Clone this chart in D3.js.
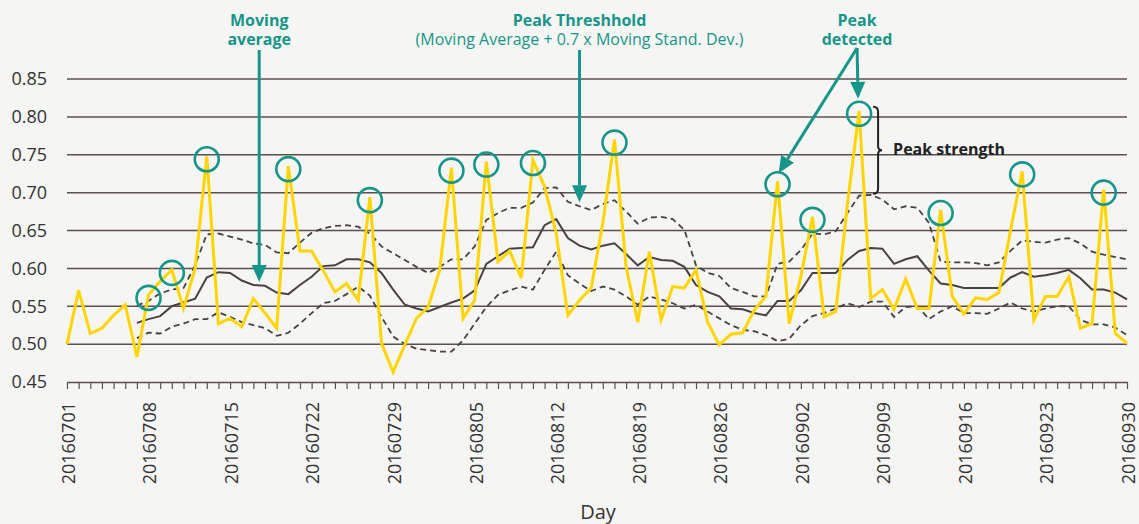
<!DOCTYPE html>
<html>
<head>
<meta charset="utf-8">
<script src="https://cdn.jsdelivr.net/npm/d3@7"></script>
<style>
  body { margin: 0; background: #f5f5f3; }
  svg { display: block; font-family: "Open Sans", sans-serif; }
</style>
</head>
<body>
<svg class="chart_svg"></svg>
<script>
// daily values, 2016-07-01 .. 2016-09-30
const daily = [0.500,0.571,0.514,0.521,0.538,0.552,0.483,0.565,0.583,0.598,
  0.547,0.600,0.748,0.527,0.534,0.523,0.560,0.541,0.521,0.735,
  0.623,0.623,0.597,0.569,0.580,0.558,0.694,0.501,0.463,0.499,
  0.534,0.549,0.598,0.733,0.534,0.558,0.741,0.609,0.623,0.587,
  0.743,0.708,0.646,0.538,0.558,0.574,0.660,0.770,0.602,0.529,
  0.622,0.532,0.576,0.574,0.598,0.529,0.499,0.513,0.515,0.545,
  0.563,0.715,0.527,0.589,0.668,0.536,0.543,0.685,0.808,0.560,
  0.572,0.546,0.586,0.547,0.547,0.677,0.563,0.540,0.561,0.559,
  0.568,0.650,0.728,0.532,0.563,0.563,0.589,0.521,0.527,0.704,
  0.514,0.501]

// moving average and bands start on day 7
const movingAvg = [null,null,null,null,null,null,0.528,0.533,0.537,0.550,
  0.555,0.560,0.588,0.595,0.594,0.584,0.578,0.577,0.568,0.566,
  0.578,0.589,0.603,0.604,0.612,0.612,0.608,0.594,0.572,0.552,
  0.547,0.543,0.549,0.555,0.560,0.571,0.606,0.616,0.626,0.627,
  0.628,0.657,0.665,0.640,0.630,0.625,0.630,0.633,0.619,0.604,
  0.615,0.611,0.610,0.602,0.578,0.569,0.563,0.547,0.546,0.541,
  0.538,0.557,0.557,0.571,0.594,0.594,0.594,0.611,0.623,0.627,
  0.626,0.606,0.612,0.616,0.597,0.580,0.578,0.574,0.574,0.574,
  0.574,0.588,0.595,0.589,0.591,0.594,0.598,0.587,0.572,0.572,
  0.568,0.559]

const upperBand = [null,null,null,null,null,null,0.551,0.557,0.567,0.572,
  0.574,0.604,0.645,0.646,0.642,0.638,0.633,0.631,0.621,0.620,
  0.634,0.647,0.653,0.656,0.657,0.655,0.646,0.629,0.620,0.611,
  0.602,0.594,0.602,0.612,0.612,0.629,0.664,0.673,0.680,0.680,
  0.687,0.706,0.707,0.688,0.682,0.677,0.685,0.690,0.675,0.659,
  0.667,0.668,0.665,0.651,0.604,0.594,0.590,0.574,0.569,0.563,
  0.563,0.606,0.609,0.624,0.646,0.645,0.649,0.673,0.696,0.697,
  0.691,0.678,0.682,0.680,0.660,0.609,0.608,0.608,0.607,0.604,
  0.608,0.623,0.637,0.635,0.634,0.638,0.640,0.633,0.622,0.618,
  0.615,0.612]

const lowerBand = [null,null,null,null,null,null,0.508,0.515,0.514,0.523,
  0.527,0.533,0.533,0.542,0.536,0.529,0.525,0.521,0.511,0.515,
  0.527,0.541,0.554,0.557,0.566,0.576,0.564,0.536,0.510,0.500,
  0.494,0.492,0.490,0.490,0.505,0.527,0.549,0.565,0.571,0.576,
  0.572,0.598,0.622,0.591,0.580,0.570,0.576,0.572,0.563,0.552,
  0.563,0.559,0.554,0.547,0.552,0.543,0.534,0.525,0.519,0.517,
  0.512,0.504,0.507,0.525,0.537,0.541,0.547,0.554,0.549,0.556,
  0.556,0.536,0.549,0.550,0.533,0.543,0.550,0.541,0.541,0.540,
  0.547,0.555,0.547,0.543,0.547,0.550,0.550,0.532,0.526,0.526,
  0.522,0.512]

// day index of detected peaks
const peakDays = [7,9,12,19,26,33,36,40,47,61,64,68,75,82,89]

const yTicks = [0.45,0.50,0.55,0.60,0.65,0.70,0.75,0.80,0.85]
const xTickLabels = ["20160701","20160708","20160715","20160722","20160729","20160805","20160812",
  "20160819","20160826","20160902","20160909","20160916","20160923","20160930"]

const W = 1139, H = 524
const margin = {top: 79, right: 12, bottom: 142, left: 67}
const teal = "#17958a", yellow = "#ffd500", grid = "#5a504e", dark = "#4a4240"

const svg = d3.select(".chart_svg").attr("width", W).attr("height", H)
svg.append("rect").attr("width", W).attr("height", H).attr("fill", "#f5f5f3")

const x = d3.scaleLinear().domain([0, daily.length - 1]).range([margin.left, W - margin.right])
const y = d3.scaleLinear().domain([0.45, 0.85]).range([H - margin.bottom, margin.top])

// gridlines
svg.append("g").selectAll("line").data(yTicks.slice(1)).join("line")
  .attr("x1", x(0)).attr("x2", x(91))
  .attr("y1", d => y(d)).attr("y2", d => y(d))
  .attr("stroke", grid).attr("stroke-width", 1.5)

// y axis labels
const yAxis = svg.append("g").attr("transform", `translate(${margin.left},0)`)
  .call(d3.axisLeft(y).tickValues(yTicks).tickSize(0).tickPadding(20).tickFormat(d3.format(".2f")))
yAxis.select(".domain").remove()
yAxis.selectAll("text").attr("font-size", 18).attr("fill", "#333").attr("font-family", "Open Sans")

// x axis with a tick per day, label every week
const xAxis = svg.append("g").attr("transform", `translate(0,${y(0.45)})`)
  .call(d3.axisBottom(x).tickValues(d3.range(daily.length)).tickSize(7).tickSizeOuter(0)
    .tickFormat(i => i % 7 === 0 ? xTickLabels[i / 7] : ""))
xAxis.select(".domain").attr("stroke", grid).attr("stroke-width", 1.5)
xAxis.selectAll(".tick line").attr("stroke", grid).attr("stroke-width", 1.2)
xAxis.selectAll("text")
  .attr("transform", "rotate(-90)")
  .attr("text-anchor", "end")
  .attr("x", -20).attr("y", 1).attr("dy", "0.35em")
  .attr("font-size", 18).attr("fill", "#333").attr("font-family", "Open Sans")

svg.append("text").attr("x", 598).attr("y", 519).attr("text-anchor", "middle")
  .attr("font-size", 20).attr("fill", "#333").text("Day")

// lines
const line = d3.line().defined(d => d != null).x((d, i) => x(i)).y(d => y(d))

svg.append("path").datum(upperBand).attr("d", line)
  .attr("fill", "none").attr("stroke", dark).attr("stroke-width", 1.8).attr("stroke-dasharray", "6,4")
svg.append("path").datum(lowerBand).attr("d", line)
  .attr("fill", "none").attr("stroke", dark).attr("stroke-width", 1.8).attr("stroke-dasharray", "6,4")
svg.append("path").datum(movingAvg).attr("d", line)
  .attr("fill", "none").attr("stroke", dark).attr("stroke-width", 2)
svg.append("path").datum(daily).attr("d", line)
  .attr("fill", "none").attr("stroke", yellow).attr("stroke-width", 3).attr("stroke-linejoin", "miter")

// peak circles
svg.append("g").selectAll("circle").data(peakDays).join("circle")
  .attr("cx", d => x(d)).attr("cy", d => y(daily[d]) + 3).attr("r", 12)
  .attr("fill", "none").attr("stroke", teal).attr("stroke-width", 2.6)

// annotations
function arrow(x1, y1, x2, y2) {
  const a = Math.atan2(y2 - y1, x2 - x1), len = 17, hw = 7.5
  const bx = x2 - len * Math.cos(a), by = y2 - len * Math.sin(a)
  svg.append("line").attr("x1", x1).attr("y1", y1).attr("x2", bx).attr("y2", by)
    .attr("stroke", teal).attr("stroke-width", 3)
  svg.append("path")
    .attr("d", `M${x2},${y2}L${bx - hw * Math.sin(a)},${by + hw * Math.cos(a)}L${bx + hw * Math.sin(a)},${by - hw * Math.cos(a)}Z`)
    .attr("fill", teal)
}

function label(cx, lines) {
  lines.forEach((l, k) => svg.append("text").attr("text-anchor", "middle").attr("fill", teal)
    .attr("font-size", 16).attr("x", cx).attr("y", 26 + k * 18.5)
    .attr("font-weight", l.bold ? 700 : 400).text(l.text))
}

const maX = x(16.5)
label(maX, [{text: "Moving", bold: true}, {text: "average", bold: true}])
arrow(maX, 50, maX, y(0.582))

const thX = x(44)
label(thX, [{text: "Peak Threshhold", bold: true}, {text: "(Moving Average + 0.7 x Moving Stand. Dev.)", bold: false}])
arrow(thX, 50, thX, y(upperBand[44]) - 4)

const pkX = x(68) - 2
label(pkX, [{text: "Peak", bold: true}, {text: "detected", bold: true}])
arrow(pkX, 48, x(68) - 1, y(daily[68]) - 12)
arrow(pkX, 48, x(61) + 1, y(daily[61]) - 8)

// peak strength brace
const bx = x(68) + 14, bTop = y(daily[68]) - 4, bBot = y(upperBand[68]) - 2, bMid = (bTop + bBot) / 2
svg.append("path")
  .attr("d", `M${bx},${bTop} q5,0 5,5 L${bx + 5},${bMid - 4} q0,4 4,4 q-4,0 -4,4 L${bx + 5},${bBot - 5} q0,5 -5,5`)
  .attr("fill", "none").attr("stroke", "#222").attr("stroke-width", 2)
svg.append("text").attr("x", bx + 20).attr("y", bMid + 5).attr("font-size", 16).attr("font-weight", 700)
  .attr("fill", "#222").text("Peak strength")
</script>
</body>
</html>
